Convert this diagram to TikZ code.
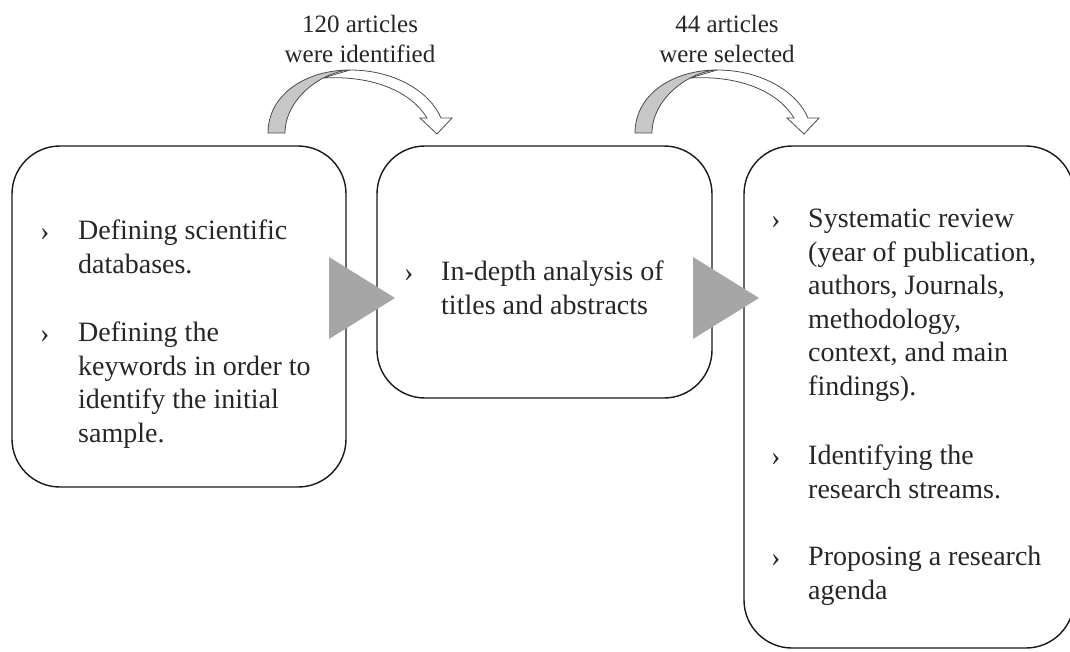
\documentclass[tikz,border=0pt]{standalone}
\usepackage{fontspec}
\setmainfont{Liberation Serif}
\begin{document}
\begin{tikzpicture}[x=1pt,y=-1pt,
  box/.style={draw=black!90, line width=1.4pt, rounded corners=48pt, inner sep=0pt},
  itemtext/.style={anchor=base west, inner sep=0pt, align=left, font=\fontsize{28}{33.5}\selectfont, text=black!85},
  bul/.style={anchor=base west, inner sep=0pt, font=\fontsize{28}{33.5}\selectfont, text=black!85},
  lbl/.style={anchor=base, inner sep=0pt, align=center, font=\fontsize{25}{30}\selectfont, text=black!85},
  tri/.style={fill=black!35, draw=none},
  cgray/.style={fill=black!22, draw=black!70, line width=0.8pt},
  cwhite/.style={fill=white, draw=black!70, line width=0.8pt}
]
\useasboundingbox (0,0) rectangle (1070,651);
\clip (0,0) rectangle (1070,651);

% boxes
\draw[box] (12,146) rectangle (346,487);
\draw[box] (377,146) rectangle (712,398);
\draw[box] (744,146) rectangle (1074,648);
\coordinate (b1) at (179,316);
\coordinate (b2) at (544,272);
\coordinate (b3) at (909,397);

% triangles between boxes
\fill[tri] (329,257) -- (395,298) -- (329,339) -- cycle;
\fill[tri] (693,257) -- (759,298) -- (693,339) -- cycle;

% box 1 text
\node[bul] (u1) at (40,240) {›};
\node[itemtext] (t1) at (78,273) {Defining scientific\\databases.};
\node[bul] (u2) at (40,342) {›};
\node[itemtext] (t2) at (78,442) {Defining the\\keywords in order to\\identify the initial\\sample.};

% box 2 text
\node[bul] (u3) at (404,281) {›};
\node[itemtext] (t3) at (441,314) {In-depth analysis of\\titles and abstracts};

% box 3 text
\node[bul] (u4) at (771,228) {›};
\node[itemtext] (t4) at (808,395) {Systematic review\\(year of publication,\\authors, Journals,\\methodology,\\context, and main\\findings).};
\node[bul] (u5) at (771,465) {›};
\node[itemtext] (t5) at (808,498) {Identifying the\\research streams.};
\node[bul] (u6) at (771,566) {›};
\node[itemtext] (t6) at (808,599) {Proposing a research\\agenda};

% curved arrows
\foreach \dx/\nm in {0/ca, 367/cb}{
  \begin{scope}[xshift=\dx pt]
    \draw[cwhite, line join=miter] (350,70) .. controls (395,70) and (430,92) .. (441,118)
      -- (452,118) -- (437,134) -- (420,118) -- (427,118)
      .. controls (412,93) and (375,75) .. (323,78) -- cycle;
    \draw[cgray] (268,133) .. controls (268,95) and (305,70) .. (350,70)
      .. controls (320,72) and (285,100) .. (285,133) -- cycle;
  \end{scope}
}

% labels
\node[lbl] (l1) at (360,62) {120 articles\\were identified};
\node[lbl] (l2) at (727,62) {44 articles\\were selected};
\end{tikzpicture}
\end{document}
